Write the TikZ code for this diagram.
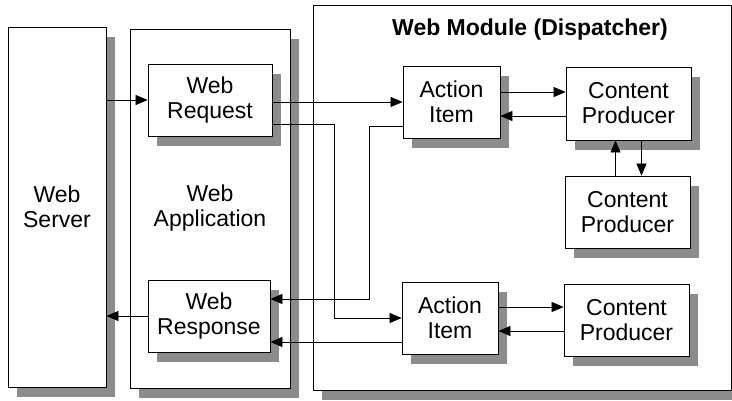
\documentclass[tikz,border=0pt]{standalone}
\usepackage{fontspec}
\setmainfont{Liberation Sans}
\usetikzlibrary{arrows.meta,shadows}

\tikzset{
	box/.style={draw, fill=white, line width=0.8pt, align=center, inner sep=0pt,
		drop shadow={shadow xshift=9pt, shadow yshift=-10pt, fill=black!45, opacity=1},
		font=\fontsize{23}{25}\selectfont},
	flow/.style={line width=0.7pt, -{Triangle[length=12pt,width=10pt]}}
}

\begin{document}
\begin{tikzpicture}[x=1pt, y=-1pt]
	\useasboundingbox (0,0) rectangle (732,400);
	\clip (0,0) rectangle (732,400);
	% outer boxes
	\node [box, minimum width=98, minimum height=360] (server) at (57,207) {Web\\Server};
	\node [box, minimum width=160, minimum height=359] (app) at (210,208.5) {Web\\Application};
	\node [box, minimum width=418, minimum height=385] (module) at (522,197.5) {};
	\node [font=\fontsize{23}{25}\selectfont\bfseries] (title) at (530,30) {Web Module (Dispatcher)};
	% inner boxes
	\node [box, minimum width=124, minimum height=72] (req) at (210,100) {Web\\Request};
	\node [box, minimum width=122, minimum height=72] (resp) at (209,316) {Web\\Response};
	\node [box, minimum width=97, minimum height=72] (act1) at (451.5,102) {Action\\Item};
	\node [box, minimum width=96, minimum height=72] (act2) at (450,318) {Action\\Item};
	\node [box, minimum width=125, minimum height=73] (cp1) at (628.5,103.5) {Content\\Producer};
	\node [box, minimum width=125, minimum height=72] (cp2) at (627.5,212) {Content\\Producer};
	\node [box, minimum width=125, minimum height=72] (cp3) at (626.5,320) {Content\\Producer};
	% connectors
	\draw [flow] (server.east |- req.west) -- (req.west);
	\draw [flow] (req.east |- act1.west) -- (act1.west);
	\draw [flow] ([yshift=-24pt]req.east) -- ++(62,0) |- (act2.west);
	\draw [flow] ([yshift=-24pt]act1.west) -- ++(-33,0) |- ([yshift=17pt]resp.east);
	\draw [flow] ([yshift=-24pt]act2.west) -- ([yshift=-24pt]act2.west -| resp.east);
	\draw [flow] (resp.west) -- (resp.west -| server.east);
	\draw [flow] ([yshift=10pt]act1.east) -- ([yshift=10pt]act1.east -| cp1.west);
	\draw [flow] ([yshift=-14pt]act1.east -| cp1.west) -- ([yshift=-14pt]act1.east);
	\draw [flow] ([xshift=-12pt]cp2.north) -- ([xshift=-12pt]cp2.north |- cp1.south);
	\draw [flow] ([xshift=13pt]cp1.south) -- ([xshift=13pt]cp1.south |- cp2.north);
	\draw [flow] ([yshift=11pt]act2.east) -- ([yshift=11pt]act2.east -| cp3.west);
	\draw [flow] ([yshift=-13pt]act2.east -| cp3.west) -- ([yshift=-13pt]act2.east);
\end{tikzpicture}
\end{document}
